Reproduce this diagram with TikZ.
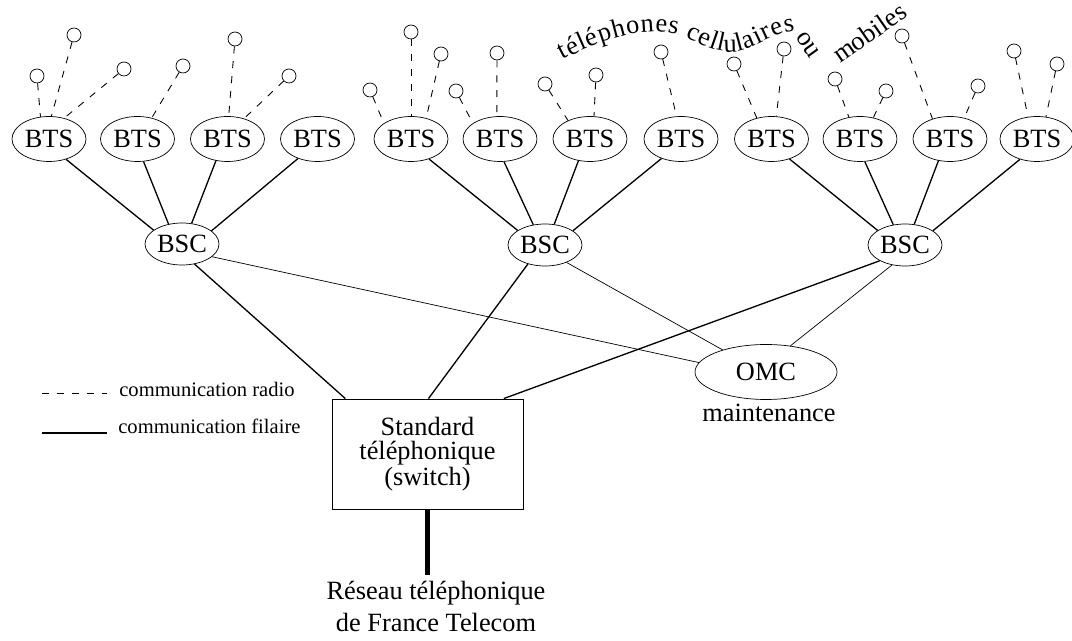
\documentclass[tikz,border=0pt]{standalone}
\usepackage{fontspec}
\setmainfont{Liberation Serif}
\usetikzlibrary{shapes.geometric,decorations.text}

\begin{document}
\begin{tikzpicture}[x=0.02cm, y=-0.02cm,
    every node/.style={font=\fontsize{15}{13.6}\selectfont},
    bts/.style={draw, line width=0.4pt, ellipse, inner sep=0pt, minimum width=1.48cm, minimum height=0.9cm},
    bsc/.style={bts, minimum height=0.84cm},
    phone/.style={draw, line width=0.4pt, circle, inner sep=0pt, minimum size=0.28cm},
    radio/.style={dash pattern=on 4pt off 4.5pt, line width=0.5pt},
    wire/.style={line width=0.75pt},
    thinwire/.style={line width=0.4pt},
    trunk/.style={line width=2.3pt},
    legend/.style={anchor=base west, inner sep=0pt, font=\fontsize{11.7}{14}\selectfont},
    curvetext/.style={decorate, decoration={text along path, text align={fit to path},
        text={|\fontsize{15}{18}\selectfont|#1}}}]

    \useasboundingbox (0,0) rectangle (1072,641);

    % stations de base
    \node[bts] (bts1) at (49,139) {BTS};
    \node[bts] (bts2) at (137.5,139) {BTS};
    \node[bts] (bts3) at (227.5,139) {BTS};
    \node[bts] (bts4) at (317.5,139) {BTS};
    \node[bts] (bts5) at (411,139) {BTS};
    \node[bts] (bts6) at (500,139) {BTS};
    \node[bts] (bts7) at (590,139) {BTS};
    \node[bts] (bts8) at (681,139) {BTS};
    \node[bts] (bts9) at (771.5,139) {BTS};
    \node[bts] (bts10) at (860,139) {BTS};
    \node[bts] (bts11) at (950,139) {BTS};
    \node[bts] (bts12) at (1037,139) {BTS};

    % controleurs
    \node[bsc] (bsc1) at (182,244) {BSC};
    \node[bsc] (bsc2) at (545,245) {BSC};
    \node[bsc] (bsc3) at (905,245) {BSC};

    \node[bts, minimum width=2.84cm, minimum height=1.1cm] (omc) at (766,372) {OMC};
    \node (maint) at (769,413) {maintenance};

    \node[draw, line width=0.5pt, minimum width=3.82cm, minimum height=2.2cm, align=center] (switch) at (427.5,454) {Standard\\téléphonique\\(switch)};
    \node[anchor=north, align=center, font=\fontsize{15}{18}\selectfont] (reseau) at (436,575) {Réseau téléphonique\\de France Telecom};

    % telephones
    \node[phone] (tel1) at (74,35) {};
    \node[phone] (tel2) at (37,76) {};
    \node[phone] (tel3) at (124,69) {};
    \node[phone] (tel4) at (183,66) {};
    \node[phone] (tel5) at (235,39) {};
    \node[phone] (tel6) at (289,76) {};
    \node[phone] (tel7) at (370,90) {};
    \node[phone] (tel8) at (411,32) {};
    \node[phone] (tel9) at (441,54) {};
    \node[phone] (tel10) at (456,91) {};
    \node[phone] (tel11) at (497,53) {};
    \node[phone] (tel12) at (545,84) {};
    \node[phone] (tel13) at (596,75) {};
    \node[phone] (tel14) at (661,52) {};
    \node[phone] (tel15) at (734,64) {};
    \node[phone] (tel16) at (784,49) {};
    \node[phone] (tel17) at (835,79) {};
    \node[phone] (tel18) at (886,91) {};
    \node[phone] (tel19) at (902,36) {};
    \node[phone] (tel20) at (978,86) {};
    \node[phone] (tel21) at (1014,51) {};
    \node[phone] (tel22) at (1057,64) {};

    \draw[radio] (tel1) -- (bts1.84);
    \draw[radio] (tel2) -- (bts1.111);
    \draw[radio] (tel3) -- (bts1.54);
    \draw[radio] (tel4) -- (bts2.56);
    \draw[radio] (tel5) -- (bts3.87);
    \draw[radio] (tel6) -- (bts3.51);
    \draw[radio] (tel7) -- (bts5.150);
    \draw[radio] (tel8) -- (bts5.90);
    \draw[radio] (tel9) -- (bts5.54);
    \draw[radio] (tel10) -- (bts6.150);
    \draw[radio] (tel11) -- (bts6.98);
    \draw[radio] (tel12) -- (bts7.140);
    \draw[radio] (tel13) -- (bts7.80);
    \draw[radio] (tel14) -- (bts8.101);
    \draw[radio] (tel15) -- (bts9.125);
    \draw[radio] (tel16) -- (bts9.78);
    \draw[radio] (tel17) -- (bts10.117);
    \draw[radio] (tel18) -- (bts10.58);
    \draw[radio] (tel19) -- (bts11.131);
    \draw[radio] (tel20) -- (bts11.56);
    \draw[radio] (tel21) -- (bts12.112);
    \draw[radio] (tel22) -- (bts12.68);

    \draw[wire] (bts1.-50) -- (bsc1.154);
    \draw[wire] (bts2.-75) -- (bsc1.124);
    \draw[wire] (bts3.-118) -- (bsc1.65);
    \draw[wire] (bts4.-135) -- (bsc1.24);
    \draw[wire] (bts5.-48) -- (bsc2.152);
    \draw[wire] (bts6.-80) -- (bsc2.120);
    \draw[wire] (bts7.-118) -- (bsc2.66);
    \draw[wire] (bts8.-135) -- (bsc2.27);
    \draw[wire] (bts9.-48) -- (bsc3.152);
    \draw[wire] (bts10.-78) -- (bsc3.120);
    \draw[wire] (bts11.-118) -- (bsc3.66);
    \draw[wire] (bts12.-130) -- (bsc3.27);

    \draw[wire] (bsc1.-58) -- (switch.146);
    \draw[wire] (bsc2.-132) -- (switch.89);
    \draw[wire] (bsc3.-148) -- (switch.36);

    \draw[thinwire] (bsc1.-23) -- (omc.172);
    \draw[thinwire] (bsc2.-39) -- (omc.153);
    \draw[thinwire] (bsc3.-123) -- (omc.47);

    \draw[trunk] (switch.south) -- (switch.south |- reseau.north);

    % legende
    \coordinate (rad1) at (42,393);
    \coordinate (rad2) at (107,393);
    \coordinate (fil1) at (42,433);
    \coordinate (fil2) at (107,433);
    \draw[radio] (rad1) -- (rad2);
    \draw[line width=0.6pt] (fil1) -- (fil2);
    \node[legend] (radiotxt) at (119,397) {communication radio};
    \node[legend] (filtxt) at (118,434) {communication filaire};

    % texte courbe
    \path[curvetext={téléphones cellulaires}]
        (563,60) .. controls (600,40) and (640,28) .. (668,33)
        .. controls (690,35) and (706,51) .. (729,52)
        .. controls (752,52) and (772,32) .. (795,31);
    \path[curvetext={ou}] (795,38) -- (810,59);
    \path[curvetext={mobiles}] (840,64) -- (909,16);
\end{tikzpicture}
\end{document}
